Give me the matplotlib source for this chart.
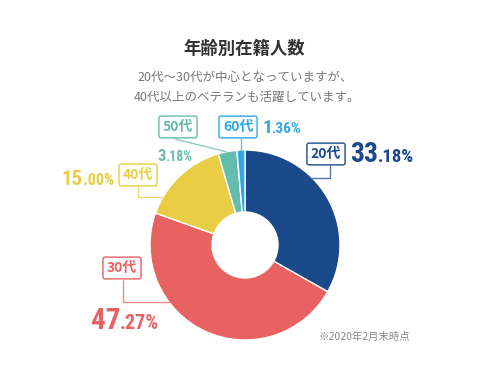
import matplotlib
matplotlib.use('Agg')
import matplotlib.pyplot as plt

# data
ages = ['20代', '30代', '40代', '50代', '60代']
shares = [33.18, 47.27, 15.00, 3.18, 1.36]
colors = ['#1a4a8a', '#e86262', '#e9cd45', '#66bcac', '#2ea8e6']

title = '年齢別在籍人数'
subtitle = ['20代～30代が中心となっていますが、', '40代以上のベテランも活躍しています。']
note = '※2020年2月末時点'

W, H = 488, 378
CJK = 'Noto Sans CJK JP'
NUM = ['Roboto Condensed', CJK]

# layout (pixel coords, y measured from top)
cx, cy, R, hole = 245, 245, 95, 33
box_pos = {'20代': (326, 154), '30代': (122, 268), '40代': (138, 175),
           '50代': (178, 127), '60代': (238, 127)}
# value text: split x, baseline y, big size, small size
val_pos = {'20代': (378, 162, 20, 13.5), '30代': (120, 329, 21, 14.5),
           '40代': (83, 185, 15, 11.5), '50代': (166, 161, 12, 10),
           '60代': (272, 133, 14, 11)}
leaders = {'20代': [(330, 165), (330, 178), (311, 178)],
           '30代': [(123, 280), (123, 302), (170, 302)],
           '40代': [(138, 185), (138, 197), (162, 197)],
           '50代': [(175, 139), (227, 152)],
           '60代': [(241, 138), (241, 151)]}


def Y(y):
    return H - y


fig = plt.figure(figsize=(W / 100, H / 100), dpi=100)
ax = fig.add_axes([0, 0, 1, 1])

ax.pie(shares, colors=colors, startangle=90, counterclock=False,
       center=(cx, Y(cy)), radius=R,
       wedgeprops=dict(width=R - hole, edgecolor='white', linewidth=1))

for age, col in zip(ages, colors):
    pts = leaders[age]
    ax.plot([p[0] for p in pts], [Y(p[1]) for p in pts], color=col,
            lw=1, alpha=0.75, solid_capstyle='butt', zorder=1)
    bx, by = box_pos[age]
    ax.text(bx, Y(by), age, ha='center', va='center', color=col,
            fontsize=10, fontweight='bold', family=CJK, zorder=3,
            bbox=dict(boxstyle='round,pad=0.28,rounding_size=0.15',
                      fc='white', ec=col, lw=1))

for age, val, col in zip(ages, shares, colors):
    big, small = ('%.2f%%' % val).split('.')
    sx, sy, fb, fs = val_pos[age]
    ax.text(sx, Y(sy), big, ha='right', va='baseline', color=col,
            fontsize=fb, fontweight='bold', family=NUM)
    ax.text(sx - 0.5, Y(sy), '.' + small, ha='left', va='baseline', color=col,
            fontsize=fs, fontweight='bold', family=NUM)

ax.text(244, Y(49), title, ha='center', va='center', fontsize=12.5,
        fontweight='bold', color='#333333', family=CJK)
ax.text(245, Y(77), subtitle[0], ha='center', va='center', fontsize=9,
        color='#777777', family=CJK)
ax.text(247, Y(97), subtitle[1], ha='center', va='center', fontsize=9,
        color='#777777', family=CJK)
ax.text(364, Y(337), note, ha='center', va='center', fontsize=7.5,
        color='#888888', family=CJK)

ax.set_xlim(0, W)
ax.set_ylim(0, H)
ax.set_aspect('auto')
ax.axis('off')

fig.savefig('out.png', dpi=100, facecolor='white')
